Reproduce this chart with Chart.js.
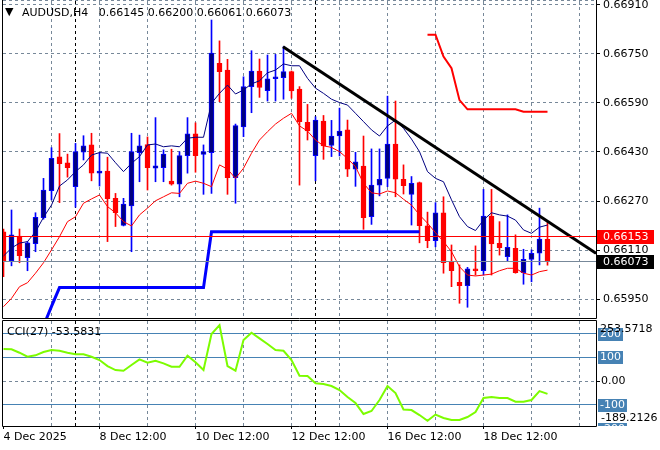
<!DOCTYPE html>
<html>
<head>
<meta charset="utf-8">
<script src="https://cdn.jsdelivr.net/npm/chart.js@4.4.1/dist/chart.umd.min.js"></script>
<style>
  html, body { margin: 0; padding: 0; background: #fff; }
  #wrap { position: relative; width: 660px; height: 450px; }
  canvas { position: absolute; left: 0; }
  #main { top: 0; }
  #cci { top: 320px; }
</style>
</head>
<body>
<div id="wrap">
  <canvas id="main" width="660" height="320"></canvas>
  <canvas id="cci" width="660" height="130"></canvas>
</div>
<script>
/* AUDUSD H4 - 69 bars, 4 Dec 12:00 .. 19 Dec 20:00 */
const symbol = 'AUDUSD';
const period = 'H4';

const opens = [
  0.66170, 0.66075, 0.66156, 0.66086, 0.66131, 0.66216, 0.66304, 0.66414, 0.66395, 0.66317,
  0.66429, 0.66453, 0.66361, 0.66368, 0.66279, 0.66191, 0.66254, 0.66428, 0.66454, 0.66377,
  0.66379, 0.66335, 0.66325, 0.66418, 0.66489, 0.66422, 0.66428, 0.66719, 0.66697, 0.66346,
  0.66512, 0.66643, 0.66694, 0.66630, 0.66669, 0.66672, 0.66692, 0.66635, 0.66527, 0.66418,
  0.66531, 0.66451, 0.66482, 0.66502, 0.66374, 0.66384, 0.66219, 0.66322, 0.66344, 0.66456,
  0.66341, 0.66292, 0.66330, 0.66189, 0.66141, 0.66232, 0.66073, 0.66005, 0.65994, 0.66049,
  0.66043, 0.66221, 0.66132, 0.66089, 0.66116, 0.66037, 0.66080, 0.66100, 0.66145,
];
const highs = [
  0.66179, 0.66241, 0.66179, 0.66138, 0.66232, 0.66344, 0.66444, 0.66490, 0.66423, 0.66458,
  0.66483, 0.66491, 0.66428, 0.66413, 0.66295, 0.66279, 0.66491, 0.66485, 0.66479, 0.66542,
  0.66437, 0.66439, 0.66431, 0.66542, 0.66525, 0.66453, 0.66860, 0.66792, 0.66732, 0.66521,
  0.66675, 0.66760, 0.66733, 0.66746, 0.66748, 0.66773, 0.66694, 0.66643, 0.66585, 0.66545,
  0.66549, 0.66533, 0.66573, 0.66534, 0.66429, 0.66482, 0.66440, 0.66440, 0.66612, 0.66596,
  0.66388, 0.66350, 0.66332, 0.66234, 0.66265, 0.66284, 0.66127, 0.66062, 0.66054, 0.66124,
  0.66308, 0.66308, 0.66203, 0.66225, 0.66160, 0.66113, 0.66111, 0.66247, 0.66200,
];
const lows = [
  0.66024, 0.66059, 0.66069, 0.66043, 0.66105, 0.66211, 0.66274, 0.66265, 0.66348, 0.66250,
  0.66404, 0.66336, 0.66319, 0.66138, 0.66187, 0.66189, 0.66105, 0.66333, 0.66306, 0.66333,
  0.66333, 0.66322, 0.66284, 0.66361, 0.66364, 0.66292, 0.66295, 0.66594, 0.66292, 0.66263,
  0.66480, 0.66558, 0.66608, 0.66596, 0.66596, 0.66602, 0.66605, 0.66322, 0.66469, 0.66336,
  0.66406, 0.66415, 0.66417, 0.66350, 0.66318, 0.66178, 0.66194, 0.66287, 0.66317, 0.66284,
  0.66293, 0.66192, 0.66134, 0.66118, 0.66121, 0.66035, 0.65991, 0.65937, 0.65924, 0.66029,
  0.66029, 0.66029, 0.66094, 0.66073, 0.66035, 0.65999, 0.66007, 0.66062, 0.66061,
];
const closes = [
  0.66073, 0.66160, 0.66092, 0.66134, 0.66217, 0.66306, 0.66409, 0.66392, 0.66379, 0.66431,
  0.66450, 0.66361, 0.66368, 0.66278, 0.66232, 0.66260, 0.66431, 0.66450, 0.66379, 0.66385,
  0.66423, 0.66325, 0.66418, 0.66489, 0.66418, 0.66431, 0.66752, 0.66692, 0.66346, 0.66516,
  0.66643, 0.66694, 0.66640, 0.66668, 0.66675, 0.66692, 0.66629, 0.66529, 0.66499, 0.66534,
  0.66450, 0.66482, 0.66498, 0.66374, 0.66398, 0.66216, 0.66322, 0.66341, 0.66456, 0.66341,
  0.66320, 0.66328, 0.66190, 0.66141, 0.66232, 0.66069, 0.66043, 0.65994, 0.66049, 0.66043,
  0.66221, 0.66130, 0.66118, 0.66119, 0.66037, 0.66080, 0.66100, 0.66146, 0.66073,
];

// moving averages (navy = fast, red = slow)
const maFast = [
  0.66091, 0.66117, 0.66133, 0.66138, 0.66170, 0.66217, 0.66257, 0.66319, 0.66339, 0.66366,
  0.66388, 0.66420, 0.66428, 0.66426, 0.66395, 0.66366, 0.66393, 0.66415, 0.66453, 0.66456,
  0.66447, 0.66450, 0.66447, 0.66475, 0.66478, 0.66478, 0.66589, 0.66621, 0.66648, 0.66619,
  0.66632, 0.66652, 0.66662, 0.66688, 0.66697, 0.66717, 0.66711, 0.66711, 0.66670, 0.66638,
  0.66621, 0.66602, 0.66591, 0.66583, 0.66556, 0.66529, 0.66502, 0.66482, 0.66515, 0.66534,
  0.66507, 0.66472, 0.66431, 0.66366, 0.66344, 0.66333, 0.66274, 0.66219, 0.66187, 0.66174,
  0.66208, 0.66232, 0.66225, 0.66221, 0.66208, 0.66176, 0.66165, 0.66185, 0.66192,
];
const maSlow = [
  0.65926, 0.65953, 0.65991, 0.66004, 0.66035, 0.66069, 0.66111, 0.66154, 0.66203, 0.66219,
  0.66263, 0.66277, 0.66290, 0.66252, 0.66232, 0.66203, 0.66189, 0.66225, 0.66247, 0.66271,
  0.66284, 0.66297, 0.66295, 0.66328, 0.66335, 0.66328, 0.66317, 0.66388, 0.66374, 0.66344,
  0.66377, 0.66426, 0.66469, 0.66496, 0.66521, 0.66540, 0.66556, 0.66515, 0.66498, 0.66469,
  0.66450, 0.66445, 0.66431, 0.66409, 0.66382, 0.66328, 0.66297, 0.66293, 0.66303, 0.66297,
  0.66276, 0.66257, 0.66225, 0.66198, 0.66167, 0.66138, 0.66105, 0.66056, 0.66029, 0.66026,
  0.66029, 0.66032, 0.66043, 0.66051, 0.66051, 0.66035, 0.66029, 0.66040, 0.66045,
];

// stop lines: first bar index + values
const blueStopStart = 5;
const blueStop = [
  0.65863, 0.65927,
  0.65988, 0.65988, 0.65988, 0.65988, 0.65988, 0.65988, 0.65988, 0.65988, 0.65988, 0.65988,
  0.65988, 0.65988, 0.65988, 0.65988, 0.65988, 0.65988, 0.65988, 0.65988, 0.65988,
  0.66170, 0.66170, 0.66170, 0.66170, 0.66170, 0.66170, 0.66170, 0.66170, 0.66170, 0.66170,
  0.66170, 0.66170, 0.66170, 0.66170, 0.66170, 0.66170, 0.66170, 0.66170, 0.66170, 0.66170,
  0.66170, 0.66170, 0.66170, 0.66170, 0.66170, 0.66170, 0.66170,
];
const redStopStart = 53;
const redStop = [
  0.66812, 0.66812, 0.66741, 0.66703, 0.66599,
  0.66569, 0.66569, 0.66569, 0.66569, 0.66569, 0.66569, 0.66569,
  0.66561, 0.66561, 0.66561, 0.66561,
];

// trend line anchors (bar index, price)
const trendLine = [{ x: 34.94, y: 0.66773 }, { x: 74.06, y: 0.66100 }];
const askPrice = 0.66153;

const cci = [
  135.4, 134.1, 119.8, 102.9, 108.8, 122.7, 131.2, 128.2, 119.8, 113.0,
  113.0, 102.9, 89.0, 63.7, 46.8, 43.9, 67.9, 91.9, 77.6, 86.0,
  75.1, 60.7, 60.7, 107.1, 79.3, 46.8, 198.6, 236.0, 63.7, 43.9,
  173.3, 204.1, 180.5, 156.5, 131.2, 128.2, 89.0, 22.8, 21.5, -9.3,
  -12.2, -20.7, -37.5, -67.1, -92.4, -138.8, -126.1, -79.7, -20.7, -50.2,
  -119.8, -121.9, -143.0, -167.0, -140.9, -155.6, -164.1, -164.1, -151.4, -130.3,
  -71.3, -67.1, -71.3, -71.3, -86.9, -86.9, -79.7, -41.8, -53.5831,
];
const cciPeriod = 27;
const cciMax = 253.5718;
const cciMin = -189.2126;
const cciLevels = [200, 100, -100, -200];

const priceTicks = [0.65950, 0.66110, 0.66270, 0.66430, 0.66590, 0.66750, 0.66910];
const dateTicks = [0, 12, 24, 36, 48, 60];
const dateLabels = ['4 Dec 2025', '8 Dec 12:00', '10 Dec 12:00', '12 Dec 12:00', '16 Dec 12:00', '18 Dec 12:00'];
const weekBreaks = [9, 39];

const FONT = 'DejaVu Sans';
const GRID = '#778899';
const STEEL = '#4682b4';
const X_MIN = -0.0625, X_MAX = 74.0625;   // 8px per bar
const Y_MIN = 0.65889, Y_MAX = 0.66922;

const last = closes.length - 1;
const bidPrice = closes[last];
const idx = opens.map((_, i) => i);
const bull = idx.map(i => closes[i] >= opens[i]);

const xTicks = [];
for (let k = 0; k <= 72; k += 6) xTicks.push(k);
weekBreaks.forEach(k => xTicks.push(k));
xTicks.sort((a, b) => a - b);

function xGridColor(ctx) {
  const v = ctx.tick ? ctx.tick.value : null;
  if (weekBreaks.includes(v)) return '#000';
  if (v === 0) return 'rgba(0,0,0,0)';
  return GRID;
}

function fixAxisWidth(scale) {
  scale.width = 64;
  scale.paddingTop = 0;
  scale.paddingBottom = 0;
}

function series(values, start) {
  return values.map((v, i) => ({ x: i + (start || 0), y: v }));
}

function lineSet(data, color, width, order) {
  return {
    type: 'line', data, borderColor: color, borderWidth: width,
    pointRadius: 0, tension: 0, fill: false, spanGaps: false, order,
  };
}

function hLine(ctx, a, p, color) {
  const y = Math.floor(p) + 0.5;
  ctx.strokeStyle = color;
  ctx.beginPath();
  ctx.moveTo(a.left, y);
  ctx.lineTo(a.right, y);
  ctx.stroke();
}

function frame(ctx, a, withTop) {
  ctx.strokeStyle = '#000';
  ctx.lineWidth = 1;
  ctx.setLineDash([]);
  ctx.beginPath();
  if (withTop) {
    ctx.rect(a.left - 0.5, a.top - 0.5, a.right - a.left + 1, a.bottom - a.top + 1);
  } else {
    ctx.moveTo(a.left - 0.5, 0);
    ctx.lineTo(a.left - 0.5, a.bottom + 0.5);
    ctx.lineTo(a.right + 0.5, a.bottom + 0.5);
    ctx.lineTo(a.right + 0.5, 0);
  }
  ctx.stroke();
}

const mainDecor = {
  id: 'mainDecor',
  afterDatasetsDraw(chart) {
    const { ctx, chartArea: a, scales: { y } } = chart;
    ctx.save();
    ctx.lineWidth = 1;
    hLine(ctx, a, y.getPixelForValue(askPrice), '#ff0000');
    hLine(ctx, a, y.getPixelForValue(bidPrice), GRID);
    ctx.restore();
  },
  afterDraw(chart) {
    const { ctx, chartArea: a, scales: { y } } = chart;
    ctx.save();
    // dotted top edge
    ctx.strokeStyle = GRID;
    ctx.setLineDash([3, 3]);
    ctx.beginPath();
    ctx.moveTo(a.left, 0.5);
    ctx.lineTo(a.right, 0.5);
    ctx.stroke();
    frame(ctx, a, false);

    ctx.font = '11px "' + FONT + '"';
    ctx.textBaseline = 'middle';
    ctx.fillStyle = '#000';
    ctx.fillText('\u25BC', 5, 12);
    const head = symbol + ',' + period + '   ' +
      [opens[last], highs[last], lows[last], closes[last]].map(v => v.toFixed(5)).join(' ');
    ctx.fillText(head, 22, 13);

    // price tags on the axis
    [[askPrice, '#ff0000'], [bidPrice, '#000']].forEach(([v, bg]) => {
      const p = Math.round(y.getPixelForValue(v));
      ctx.fillStyle = bg;
      ctx.fillRect(a.right + 1, p - 7, 57, 14);
      ctx.fillStyle = '#fff';
      ctx.fillText(v.toFixed(5), a.right + 7, p);
    });
    ctx.restore();
  },
};

const cciDecor = {
  id: 'cciDecor',
  beforeDatasetsDraw(chart) {
    const { ctx, chartArea: a, scales: { y } } = chart;
    ctx.save();
    ctx.lineWidth = 1;
    cciLevels.forEach(lv => {
      const p = y.getPixelForValue(lv);
      if (p >= a.top && p <= a.bottom) hLine(ctx, a, p, STEEL);
    });
    ctx.restore();
  },
  afterDraw(chart) {
    const { ctx, chartArea: a, scales: { y } } = chart;
    ctx.save();
    frame(ctx, a, true);
    ctx.font = '11px "' + FONT + '"';
    ctx.textBaseline = 'middle';
    ctx.fillStyle = '#000';
    ctx.fillText('CCI(' + cciPeriod + ') ' + cci[last].toFixed(4), 7, a.top + 11);

    // level tags, clipped to the panel height
    ctx.save();
    ctx.beginPath();
    ctx.rect(a.right, a.top, 64, a.bottom - a.top);
    ctx.clip();
    cciLevels.forEach(lv => {
      const p = Math.round(y.getPixelForValue(lv));
      const t = String(lv);
      const w = ctx.measureText(t).width;
      ctx.fillStyle = STEEL;
      ctx.fillRect(a.right + 2, p - 6, w + 4, 13);
      ctx.fillStyle = '#fff';
      ctx.fillText(t, a.right + 4, p + 0.5);
    });
    ctx.restore();

    ctx.fillStyle = '#000';
    ctx.fillText((0).toFixed(2), a.right + 5, y.getPixelForValue(0));
    ctx.fillText(cciMax.toFixed(4), a.right + 4, a.top + 8);
    ctx.fillText(cciMin.toFixed(4), a.right + 5, a.bottom - 8);
    ctx.restore();
  },
};

const tickFont = { family: FONT, size: 11 };

new Chart(document.getElementById('main'), {
  type: 'bar',
  data: {
    datasets: [
      lineSet(trendLine, '#000', 3, 0),
      lineSet(series(maFast), '#000080', 1, 1),
      lineSet(series(maSlow), '#ff0000', 1, 1),
      lineSet(series(blueStop, blueStopStart), '#0000ff', 3, 2),
      lineSet(series(redStop, redStopStart), '#ff0000', 2, 2),
      {
        type: 'bar',
        data: idx.map(i => ({ x: i, y: [opens[i], closes[i]] })),
        backgroundColor: idx.map(i => bull[i] ? '#000080' : '#ff0000'),
        borderColor: idx.map(i => bull[i] ? '#0000ff' : '#ff0000'),
        borderWidth: 1, borderSkipped: false, barThickness: 5, grouped: false, order: 5,
      },
      {
        type: 'bar',
        data: idx.map(i => ({ x: i, y: [lows[i], highs[i]] })),
        backgroundColor: idx.map(i => bull[i] ? '#0000ff' : '#ff0000'),
        borderWidth: 0, barThickness: 1, grouped: false, order: 6,
      },
    ],
  },
  options: {
    responsive: false,
    animation: false,
    devicePixelRatio: 1,
    events: [],
    layout: { padding: { left: 3, top: 1, right: 0, bottom: 2 } },
    plugins: { legend: { display: false }, tooltip: { enabled: false } },
    scales: {
      x: {
        type: 'linear', min: X_MIN, max: X_MAX, offset: false, bounds: 'data',
        afterBuildTicks: s => { s.ticks = xTicks.filter(v => v > 0).map(v => ({ value: v })); },
        ticks: { display: false },
        grid: { offset: false, color: xGridColor, drawTicks: false },
        border: { display: false, dash: [3, 3] },
      },
      y: {
        position: 'right', min: Y_MIN, max: Y_MAX, bounds: 'data', beginAtZero: false,
        afterBuildTicks: s => { s.ticks = priceTicks.map(v => ({ value: v })); },
        afterFit: fixAxisWidth,
        ticks: { color: '#000', font: tickFont, padding: 3, autoSkip: false, callback: v => v.toFixed(5) },
        grid: { color: GRID, tickColor: '#000', tickLength: 4, drawTicks: true },
        border: { display: false, dash: [3, 3] },
      },
    },
  },
  plugins: [mainDecor],
});

new Chart(document.getElementById('cci'), {
  type: 'line',
  data: {
    datasets: [lineSet(series(cci), '#7cfc00', 2, 0)],
  },
  options: {
    responsive: false,
    animation: false,
    devicePixelRatio: 1,
    events: [],
    layout: { padding: { left: 3, top: 1, right: 0, bottom: 0 } },
    plugins: { legend: { display: false }, tooltip: { enabled: false } },
    scales: {
      x: {
        type: 'linear', min: X_MIN, max: X_MAX, offset: false, bounds: 'data',
        afterBuildTicks: s => { s.ticks = xTicks.map(v => ({ value: v })); },
        afterFit: s => { s.height = 24; s.paddingLeft = 0; s.paddingRight = 0; },
        ticks: {
          display: true, autoSkip: false, maxRotation: 0, minRotation: 0, align: 'start',
          padding: 2, color: '#000', font: tickFont,
          callback: v => {
            const j = dateTicks.indexOf(v);
            return j >= 0 ? dateLabels[j] : '';
          },
        },
        grid: {
          offset: false, color: xGridColor, drawTicks: true, tickLength: 3,
          tickColor: ctx => (ctx.tick && dateTicks.includes(ctx.tick.value)) ? '#000' : 'rgba(0,0,0,0)',
        },
        border: { display: false, dash: [3, 3] },
      },
      y: {
        position: 'right', min: cciMin, max: cciMax, bounds: 'data', beginAtZero: false,
        afterBuildTicks: s => { s.ticks = [{ value: 0 }]; },
        afterFit: fixAxisWidth,
        ticks: { display: false },
        grid: { color: GRID, tickColor: '#000', tickLength: 4, drawTicks: true },
        border: { display: false, dash: [3, 3] },
      },
    },
  },
  plugins: [cciDecor],
});
</script>
</body>
</html>
